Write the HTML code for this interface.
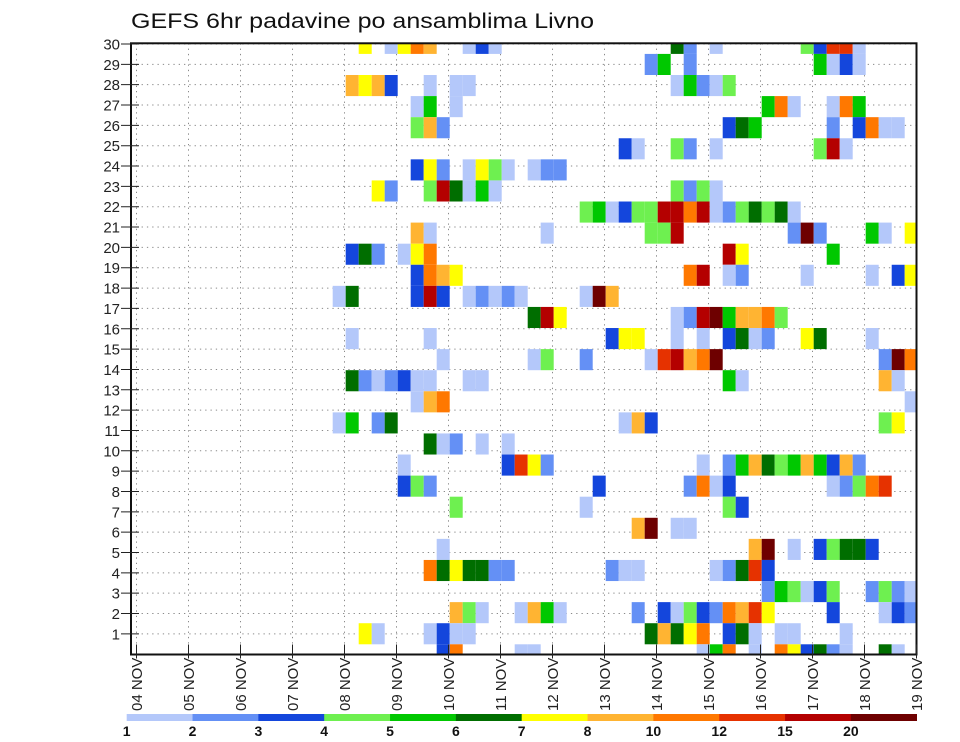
<!DOCTYPE html>
<html><head><meta charset="utf-8"><style>
html,body{margin:0;padding:0;background:#fff;}
svg{display:block;font-family:"Liberation Sans",sans-serif;}
</style></head><body>
<svg id="chart" width="960" height="742" viewBox="0 0 960 742" xmlns="http://www.w3.org/2000/svg">
<text x="131" y="28" font-size="21" textLength="463" lengthAdjust="spacingAndGlyphs" fill="#111">GEFS 6hr padavine po ansamblima Livno</text>
<g id="grid"></g><g id="cells"></g><g id="axes"></g><g id="legend"></g>
</svg>
<script>
// colorbar levels and colors
const levels = [1,2,3,4,5,6,7,8,10,12,15,20];
const levelColors = ["#b4c8fa","#6490f5","#1446dc","#6ef050","#00c800","#006e00","#ffff00","#ffb432","#ff7800","#e63200","#b40000","#6e0000"];
const dayLabels = ["04 NOV","05 NOV","06 NOV","07 NOV","08 NOV","09 NOV","10 NOV","11 NOV","12 NOV","13 NOV","14 NOV","15 NOV","16 NOV","17 NOV","18 NOV","19 NOV"];
const memberLabels = [30,29,28,27,26,25,24,23,22,21,20,19,18,17,16,15,14,13,12,11,10,9,8,7,6,5,4,3,2,1];
// precipitation values: each entry = [row slot (0=top), 6h step from 04 NOV 00Z, mm]
const lb=1.5,mb=2.5,bl=3.5,lg=4.5,gr=5.5,dg=6.5,ye=7.5,lo=9,or=11,ro=13.5,dr=17.5,br=25;
const precipRows = [
 [[17,ye],[19,lb],[20,ye],[21,or],[22,lo],[25,lb],[26,bl],[27,lb],[41,dg],[42,mb],[44,lb],[51,lg],[52,bl],[53,ro],[54,ro],[55,lb]],
 [[39,mb],[40,gr],[42,mb],[52,gr],[53,lb],[54,bl],[55,lb]],
 [[16,lo],[17,ye],[18,lo],[19,bl],[22,lb],[24,lb],[25,lb],[41,lb],[42,gr],[43,mb],[44,lb],[45,lg]],
 [[21,lb],[22,gr],[24,lb],[48,gr],[49,or],[50,lb],[53,lb],[54,or],[55,gr]],
 [[21,lg],[22,lo],[23,mb],[45,bl],[46,dg],[47,gr],[53,mb],[55,bl],[56,or],[57,lb],[58,lb]],
 [[37,bl],[38,lb],[41,lg],[42,mb],[44,lb],[52,lg],[53,dr],[54,lb]],
 [[21,bl],[22,ye],[23,mb],[25,lb],[26,ye],[27,lg],[28,lb],[30,lb],[31,mb],[32,mb]],
 [[18,ye],[19,mb],[22,lg],[23,dr],[24,dg],[25,lb],[26,gr],[27,lb],[41,lg],[42,mb],[43,lg],[44,lb]],
 [[34,lg],[35,gr],[36,lb],[37,bl],[38,lg],[39,lg],[40,dr],[41,dr],[42,or],[43,dr],[44,lb],[45,mb],[46,lg],[47,dg],[48,lg],[49,dg],[50,lb]],
 [[21,lo],[22,lb],[31,lb],[39,lg],[40,lg],[41,dr],[50,mb],[51,br],[52,mb],[56,gr],[57,lb],[59,ye]],
 [[16,bl],[17,dg],[18,mb],[20,lb],[21,ye],[22,or],[45,dr],[46,ye],[53,gr]],
 [[21,bl],[22,or],[23,lo],[24,ye],[42,or],[43,dr],[45,lb],[46,mb],[51,lb],[56,lb],[58,bl],[59,ye]],
 [[15,lb],[16,dg],[21,bl],[22,dr],[23,bl],[25,lb],[26,mb],[27,lb],[28,mb],[29,lb],[34,lb],[35,br],[36,lo]],
 [[30,dg],[31,dr],[32,ye],[41,lb],[42,mb],[43,dr],[44,br],[45,gr],[46,lo],[47,lo],[48,or],[49,lg]],
 [[16,lb],[22,lb],[36,bl],[37,ye],[38,ye],[41,lb],[43,lb],[45,bl],[46,dg],[47,lb],[48,mb],[51,ye],[52,dg],[56,lb]],
 [[23,lb],[30,lb],[31,lg],[34,mb],[39,lb],[40,ro],[41,dr],[42,lo],[43,or],[44,br],[57,mb],[58,br],[59,or]],
 [[16,dg],[17,mb],[18,lb],[19,mb],[20,bl],[21,lb],[22,lb],[25,lb],[26,lb],[45,gr],[46,lb],[57,lo],[58,lb]],
 [[21,lb],[22,lo],[23,or],[59,lb]],
 [[15,lb],[16,gr],[18,mb],[19,dg],[37,lb],[38,lo],[39,bl],[57,lg],[58,ye]],
 [[22,dg],[23,lb],[24,mb],[26,lb],[28,lb]],
 [[20,lb],[28,bl],[29,ro],[30,ye],[31,mb],[43,lb],[45,mb],[46,gr],[47,lo],[48,dg],[49,lg],[50,gr],[51,lo],[52,gr],[53,bl],[54,lo],[55,mb]],
 [[20,bl],[21,lg],[22,mb],[35,bl],[42,mb],[43,or],[44,lb],[45,bl],[53,lb],[54,mb],[55,lg],[56,or],[57,ro]],
 [[24,lg],[34,lb],[45,lg],[46,bl]],
 [[38,lo],[39,br],[41,lb],[42,lb]],
 [[23,lb],[47,lo],[48,br],[50,lb],[52,bl],[53,lg],[54,dg],[55,dg],[56,bl]],
 [[22,or],[23,dg],[24,ye],[25,dg],[26,dg],[27,mb],[28,mb],[36,mb],[37,lb],[38,lb],[44,lb],[45,mb],[46,dg],[47,ro],[48,bl]],
 [[48,mb],[49,gr],[50,lg],[51,lb],[52,bl],[53,lg],[56,mb],[57,lg],[58,mb],[59,lb]],
 [[24,lo],[25,lg],[26,lb],[29,lb],[30,lo],[31,gr],[32,lb],[38,mb],[40,bl],[41,lb],[42,lg],[43,bl],[44,mb],[45,or],[46,lo],[47,ro],[48,ye],[53,bl],[57,lb],[58,bl],[59,mb]],
 [[17,ye],[18,lb],[22,lb],[23,bl],[24,lb],[25,lb],[39,dg],[40,lo],[41,dg],[42,ye],[43,or],[45,bl],[46,dg],[47,lb],[49,lb],[50,lb],[54,lb]],
 [[23,bl],[24,or],[29,lb],[30,lb],[43,lb],[44,gr],[45,or],[47,lb],[49,or],[50,ye],[51,bl],[52,dg],[53,mb],[54,lb],[57,dg],[58,lb]]
];

const NS="http://www.w3.org/2000/svg";
const PL=131, PR=916.5, PT=43.3, PB=654.5;
function xStep(k){return 137.7+13.0*k;}
function xDay(d){return 136.5+52.0*d;}
function yCellTop(s){return 75+(s-2)*21.085;}
function yLabel(i){return 44+i*20.34;}
function colorFor(v){let c=null;for(let i=0;i<levels.length;i++){if(v>=levels[i])c=levelColors[i];}return c;}
function mk(tag,attrs,parent){const e=document.createElementNS(NS,tag);for(const k in attrs)e.setAttribute(k,attrs[k]);parent.appendChild(e);return e;}

const grid=document.getElementById('grid');
memberLabels.forEach((m,i)=>{
  const l=mk('line',{x1:PL,x2:PR,y1:yLabel(i),y2:yLabel(i),stroke:'#8a8a8a','stroke-width':1,'stroke-dasharray':'1.3 4'},grid);
  
  
});
dayLabels.forEach((d,i)=>{
  const l=mk('line',{x1:xDay(i),x2:xDay(i),y1:PT,y2:PB,stroke:'#8a8a8a','stroke-width':1,'stroke-dasharray':'1.3 4'},grid);
  
  
});

const cellsG=document.getElementById('cells');
precipRows.forEach((row,s)=>{
  row.forEach(([k,v])=>{
    const c=colorFor(v); if(!c) return;
    let y0=Math.max(yCellTop(s),PT), y1=Math.min(yCellTop(s+1),PB);
    let x0=xStep(k), x1=Math.min(xStep(k+1),PR);
    const r=mk('rect',{x:x0,y:y0,width:x1-x0,height:y1-y0,fill:c},cellsG);
    
    
  });
});

const axes=document.getElementById('axes');
const frame=mk('rect',{x:PL,y:PT,width:PR-PL,height:PB-PT,fill:'none',stroke:'#111','stroke-width':2},axes);


memberLabels.forEach((m,i)=>{
  const y=yLabel(i);
  mk('line',{x1:121,x2:139,y1:y,y2:y,stroke:'#222','stroke-width':1},axes);
  const t=mk('text',{x:120,y:y+5.5,'text-anchor':'end','font-size':15,fill:'#222'},axes);
  t.textContent=m;
  
  
});
dayLabels.forEach((d,i)=>{
  const x=xDay(i);
  mk('line',{x1:x,x2:x,y1:PB-10,y2:PB+4,stroke:'#222','stroke-width':1},axes);
  const t=mk('text',{x:0,y:0,'font-size':15,fill:'#222',transform:`translate(${x+5.5},711) rotate(-90)`},axes);
  t.textContent=d;
  
  
});

const leg=document.getElementById('legend');
const LX0=126.7, LX1=916.7, LW=(LX1-LX0)/levels.length;
levels.forEach((lv,i)=>{
  const r=mk('rect',{x:LX0+i*LW,y:714,width:LW+0.3,height:7,fill:levelColors[i]},leg);
  
  
  const t=mk('text',{x:LX0+i*LW,y:736,'text-anchor':'middle','font-size':14,'font-weight':'bold',fill:'#111'},leg);
  t.textContent=lv;
  
  
});
</script>
</body></html>
